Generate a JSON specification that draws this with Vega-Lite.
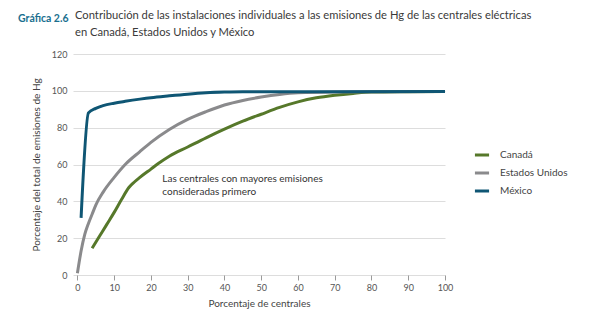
{
  "$schema": "https://vega.github.io/schema/vega-lite/v6.json",
  "autosize": {"type": "none"},
  "width": 372,
  "height": 221,
  "padding": {"left": 73, "top": 54, "right": 155, "bottom": 55},
  "background": "white",
  "config": {
    "view": {"stroke": null},
    "font": "Lato"
  },
  "title": {
    "text": ["Contribución de las instalaciones individuales a las emisiones de Hg de las centrales eléctricas", "en Canadá, Estados Unidos y México"],
    "anchor": "start",
    "frame": "group",
    "dx": 2,
    "offset": -24,
    "font": "Lato",
    "fontSize": 11.2,
    "fontWeight": "normal",
    "color": "#3a3a3a",
    "lineHeight": 17
  },
  "datasets": {
    "series": [
      {"pais": "Canadá", "x": 4, "y": 14.5},
      {"pais": "Canadá", "x": 6, "y": 21},
      {"pais": "Canadá", "x": 8, "y": 27.5},
      {"pais": "Canadá", "x": 10, "y": 34},
      {"pais": "Canadá", "x": 12, "y": 41},
      {"pais": "Canadá", "x": 14, "y": 47.5},
      {"pais": "Canadá", "x": 15.5, "y": 50.5},
      {"pais": "Canadá", "x": 17, "y": 53},
      {"pais": "Canadá", "x": 20, "y": 57.5},
      {"pais": "Canadá", "x": 22, "y": 60.5},
      {"pais": "Canadá", "x": 25, "y": 64.5},
      {"pais": "Canadá", "x": 30, "y": 69.5},
      {"pais": "Canadá", "x": 35, "y": 74.5},
      {"pais": "Canadá", "x": 40, "y": 79.2},
      {"pais": "Canadá", "x": 45, "y": 83.5},
      {"pais": "Canadá", "x": 50, "y": 87.3},
      {"pais": "Canadá", "x": 55, "y": 91},
      {"pais": "Canadá", "x": 60, "y": 94},
      {"pais": "Canadá", "x": 65, "y": 96.2},
      {"pais": "Canadá", "x": 70, "y": 97.6},
      {"pais": "Canadá", "x": 75, "y": 98.6},
      {"pais": "Canadá", "x": 80, "y": 99.3},
      {"pais": "Canadá", "x": 90, "y": 99.5},
      {"pais": "Canadá", "x": 100, "y": 99.6},
      {"pais": "Estados Unidos", "x": 0, "y": 1},
      {"pais": "Estados Unidos", "x": 1, "y": 13},
      {"pais": "Estados Unidos", "x": 2, "y": 22},
      {"pais": "Estados Unidos", "x": 3, "y": 28},
      {"pais": "Estados Unidos", "x": 4, "y": 33},
      {"pais": "Estados Unidos", "x": 5, "y": 38},
      {"pais": "Estados Unidos", "x": 7, "y": 45},
      {"pais": "Estados Unidos", "x": 10, "y": 53},
      {"pais": "Estados Unidos", "x": 13, "y": 60},
      {"pais": "Estados Unidos", "x": 17, "y": 67},
      {"pais": "Estados Unidos", "x": 20, "y": 72},
      {"pais": "Estados Unidos", "x": 25, "y": 79},
      {"pais": "Estados Unidos", "x": 30, "y": 84.5},
      {"pais": "Estados Unidos", "x": 35, "y": 88.7},
      {"pais": "Estados Unidos", "x": 40, "y": 92.3},
      {"pais": "Estados Unidos", "x": 45, "y": 94.8},
      {"pais": "Estados Unidos", "x": 50, "y": 96.6},
      {"pais": "Estados Unidos", "x": 55, "y": 98},
      {"pais": "Estados Unidos", "x": 60, "y": 98.9},
      {"pais": "Estados Unidos", "x": 70, "y": 99.4},
      {"pais": "Estados Unidos", "x": 80, "y": 99.5},
      {"pais": "Estados Unidos", "x": 100, "y": 99.6},
      {"pais": "México", "x": 1, "y": 31},
      {"pais": "México", "x": 3, "y": 88},
      {"pais": "México", "x": 5, "y": 90.5},
      {"pais": "México", "x": 7, "y": 92},
      {"pais": "México", "x": 10, "y": 93.3},
      {"pais": "México", "x": 13, "y": 94.3},
      {"pais": "México", "x": 17, "y": 95.5},
      {"pais": "México", "x": 20, "y": 96.3},
      {"pais": "México", "x": 25, "y": 97.3},
      {"pais": "México", "x": 30, "y": 98.2},
      {"pais": "México", "x": 35, "y": 98.9},
      {"pais": "México", "x": 40, "y": 99.3},
      {"pais": "México", "x": 45, "y": 99.5},
      {"pais": "México", "x": 100, "y": 99.6}
    ],
    "note": [
      {"x": 23.1, "y": 50.5, "label": ["Las centrales con mayores emisiones", "consideradas primero"]}
    ],
    "head": [
      {"label": "Gráfica 2.6"}
    ]
  },
  "encoding": {
    "x": {
      "field": "x", "type": "quantitative",
      "scale": {"domain": [-1.2, 100], "nice": false, "zero": false},
      "axis": {
        "title": "Porcentaje de centrales",
        "values": [0, 10, 20, 30, 40, 50, 60, 70, 80, 90, 100],
        "grid": false,
        "domain": false,
        "ticks": true,
        "tickColor": "#9a9a9a",
        "tickSize": 5,
        "labelFlush": false,
        "labelFont": "Lato",
        "labelFontSize": 9,
        "labelColor": "#555555",
        "labelPadding": 3,
        "titleFont": "Lato",
        "titleFontSize": 10,
        "titleFontWeight": "normal",
        "titleColor": "#444444",
        "titlePadding": 6
      }
    },
    "y": {
      "field": "y", "type": "quantitative",
      "scale": {"domain": [0, 120], "nice": false},
      "axis": {
        "title": "Porcentaje del total de emisiones de Hg",
        "values": [0, 20, 40, 60, 80, 100, 120],
        "grid": true,
        "gridColor": "#dddddd",
        "gridWidth": 1,
        "domain": false,
        "ticks": false,
        "labelFlush": false,
        "labelFont": "Lato",
        "labelFontSize": 9,
        "labelColor": "#555555",
        "labelPadding": 6,
        "titleFont": "Lato",
        "titleFontSize": 10,
        "titleFontWeight": "normal",
        "titleColor": "#444444",
        "titlePadding": 10
      }
    }
  },
  "layer": [
    {
      "data": {"name": "series"},
      "mark": {"type": "line", "strokeWidth": 3, "strokeCap": "butt", "strokeJoin": "round", "interpolate": "monotone"},
      "encoding": {
        "color": {
          "field": "pais", "type": "nominal",
          "scale": {"domain": ["Canadá", "Estados Unidos", "México"], "range": ["#56782a", "#8a8a8c", "#0f5674"]},
          "legend": {
            "title": null,
            "orient": "none",
            "legendX": 400,
            "legendY": 92,
            "symbolType": "stroke",
            "symbolSize": 200,
            "symbolStrokeWidth": 3,
            "rowPadding": 3,
            "labelFont": "Lato",
            "labelFontSize": 10,
            "labelColor": "#444444",
            "labelOffset": 9
          }
        }
      }
    },
    {
      "data": {"name": "note"},
      "mark": {"type": "text", "align": "left", "baseline": "alphabetic", "font": "Lato", "fontSize": 10, "color": "#333333", "lineHeight": 13},
      "encoding": {
        "text": {"field": "label"}
      }
    },
    {
      "data": {"name": "head"},
      "mark": {"type": "text", "align": "left", "baseline": "alphabetic", "font": "Lato", "fontSize": 10.5, "fontWeight": "bold", "color": "#1a6f8f"},
      "encoding": {
        "x": {"value": -55},
        "y": {"value": -32},
        "text": {"field": "label"}
      }
    }
  ]
}
